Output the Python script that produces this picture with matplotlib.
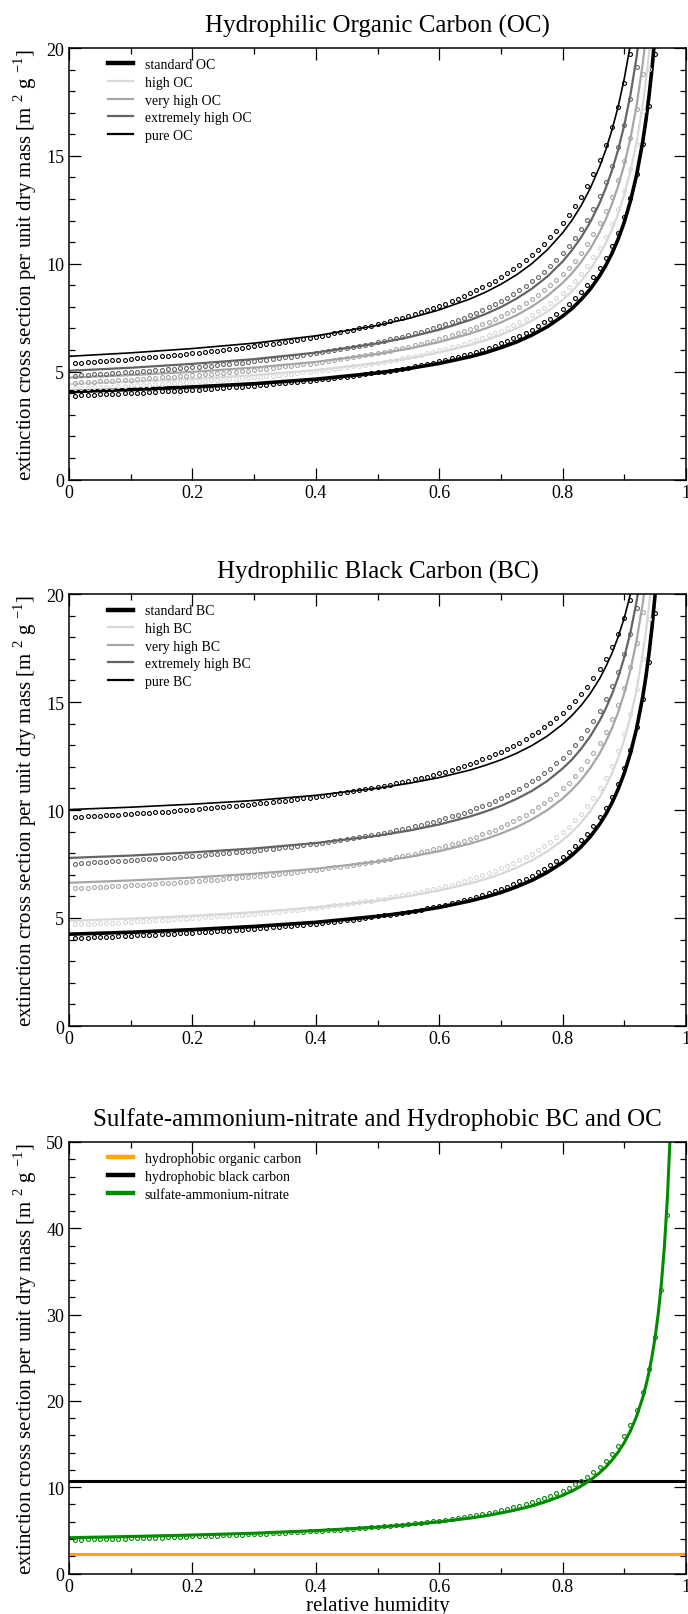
import numpy as np
import matplotlib
matplotlib.use('Agg')
import matplotlib.pyplot as plt
from matplotlib.ticker import MultipleLocator

plt.rcParams['font.family'] = ['Liberation Serif', 'DejaVu Serif']
plt.rcParams['mathtext.fontset'] = 'custom'
plt.rcParams['mathtext.rm'] = 'Liberation Serif'

# relative humidity of the fitted curves (lines) and of the computed points (circles)
LINE_RH = [0, .1, .2, .3, .4, .5, .55, .6, .65, .675, .7, .725, .75, .775, .8, .815, .83, .845, .86, .87,
           .88, .89, .9, .91, .92, .93, .935, .94, .945, .95, .955, .96, .965, .97, .975]
MARK_RH = np.round(np.arange(1, 100) * 0.01, 2)

# Hydrophilic OC
oc_names = ['standard OC', 'high OC', 'very high OC', 'extremely high OC', 'pure OC']
oc_std_line = [4.07, 4.17, 4.29, 4.44, 4.65, 4.94, 5.14, 5.38, 5.69, 5.88, 6.11, 6.37, 6.69, 7.08, 7.57, 7.92,
               8.34, 8.83, 9.44, 9.92, 10.48, 11.14, 11.93, 12.91, 14.12, 15.68, 16.64, 17.76, 19.08, 20.67]
oc_std_pts = [3.89, 3.90, 3.91, 3.93, 3.94, 3.95, 3.96, 3.98, 3.99, 4.00, 4.02, 4.03, 4.05, 4.06, 4.08,
              4.09, 4.11, 4.12, 4.14, 4.16, 4.17, 4.19, 4.21, 4.23, 4.25, 4.27, 4.29, 4.31, 4.33, 4.35, 4.37, 4.40,
              4.42, 4.45, 4.47, 4.50, 4.52, 4.55, 4.58, 4.61, 4.64, 4.67, 4.70, 4.74, 4.77, 4.81, 4.84, 4.88, 4.92,
              4.96, 5.00, 5.05, 5.09, 5.14, 5.19, 5.24, 5.30, 5.35, 5.41, 5.48, 5.54, 5.61, 5.68, 5.76, 5.84, 5.92,
              6.01, 6.10, 6.20, 6.31, 6.42, 6.54, 6.67, 6.80, 6.95, 7.11, 7.28, 7.46, 7.66, 7.88, 8.12, 8.39, 8.68,
              9.01, 9.37, 9.79, 10.26, 10.80, 11.43, 12.18, 13.07, 14.16, 15.53, 17.31, 19.71, 23.17]
oc_high_line = [4.42, 4.53, 4.66, 4.84, 5.07, 5.40, 5.61, 5.89, 6.23, 6.45, 6.70, 7.00, 7.35, 7.78, 8.33, 8.72,
                9.19, 9.75, 10.42, 10.96, 11.58, 12.32, 13.21, 14.30, 15.65, 17.40, 18.47, 19.72, 21.20]
oc_high_pts = [4.23, 4.25, 4.26, 4.27, 4.29, 4.30, 4.31, 4.33, 4.34, 4.36, 4.37, 4.39, 4.40, 4.42, 4.44,
               4.45, 4.47, 4.49, 4.51, 4.53, 4.55, 4.57, 4.59, 4.61, 4.63, 4.65, 4.67, 4.69, 4.72, 4.74, 4.77, 4.79,
               4.82, 4.85, 4.87, 4.90, 4.93, 4.96, 4.99, 5.03, 5.06, 5.09, 5.13, 5.17, 5.20, 5.24, 5.28, 5.33, 5.37,
               5.42, 5.46, 5.51, 5.56, 5.62, 5.67, 5.73, 5.79, 5.85, 5.92, 5.98, 6.06, 6.13, 6.21, 6.29, 6.38, 6.47,
               6.57, 6.68, 6.79, 6.90, 7.03, 7.16, 7.30, 7.45, 7.61, 7.79, 7.97, 8.18, 8.40, 8.64, 8.91, 9.20, 9.52,
               9.88, 10.29, 10.74, 11.26, 11.86, 12.56, 13.38, 14.37, 15.57, 17.08, 19.04, 21.69]
oc_vhigh_line = [4.72, 4.84, 4.99, 5.19, 5.45, 5.82, 6.06, 6.37, 6.76, 7.00, 7.28, 7.61, 8.01, 8.50, 9.11, 9.55,
                 10.08, 10.70, 11.46, 12.06, 12.77, 13.60, 14.60, 15.81, 17.34, 19.30, 20.50]
oc_vhigh_pts = [4.48, 4.50, 4.52, 4.53, 4.55, 4.56, 4.58, 4.60, 4.61, 4.63, 4.65, 4.67, 4.69,
                4.71, 4.73, 4.75, 4.77, 4.79, 4.81, 4.83, 4.85, 4.88, 4.90, 4.92, 4.95, 4.97, 5.00, 5.03,
                5.05, 5.08, 5.11, 5.14, 5.17, 5.20, 5.24, 5.27, 5.30, 5.34, 5.37, 5.41, 5.45, 5.49, 5.53,
                5.57, 5.62, 5.66, 5.71, 5.76, 5.81, 5.86, 5.92, 5.97, 6.03, 6.09, 6.16, 6.22, 6.29, 6.36,
                6.44, 6.52, 6.60, 6.69, 6.78, 6.87, 6.97, 7.08, 7.19, 7.31, 7.43, 7.56, 7.71, 7.85, 8.01,
                8.19, 8.37, 8.56, 8.78, 9.01, 9.26, 9.53, 9.82, 10.15, 10.51, 10.91, 11.36, 11.87, 12.44,
                13.10, 13.87, 14.77, 15.85, 17.16, 18.80, 20.92]
oc_xhigh_line = [5.04, 5.18, 5.36, 5.58, 5.88, 6.31, 6.59, 6.94, 7.39, 7.67, 7.99, 8.38, 8.84, 9.40, 10.10, 10.62,
                 11.22, 11.94, 12.81, 13.51, 14.32, 15.28, 16.43, 17.84, 19.59, 21.85]
oc_xhigh_pts = [4.82, 4.83, 4.85, 4.87, 4.89, 4.90, 4.92, 4.94, 4.96, 4.98, 5.00, 5.02, 5.04,
                5.06, 5.09, 5.11, 5.13, 5.16, 5.18, 5.20, 5.23, 5.26, 5.28, 5.31, 5.34, 5.37, 5.39, 5.42,
                5.46, 5.49, 5.52, 5.55, 5.59, 5.62, 5.66, 5.70, 5.73, 5.77, 5.82, 5.86, 5.90, 5.95, 5.99,
                6.04, 6.09, 6.14, 6.19, 6.25, 6.30, 6.36, 6.42, 6.49, 6.55, 6.62, 6.69, 6.77, 6.85, 6.93,
                7.01, 7.10, 7.19, 7.29, 7.39, 7.50, 7.61, 7.73, 7.85, 7.99, 8.13, 8.28, 8.43, 8.60, 8.78,
                8.97, 9.18, 9.40, 9.64, 9.90, 10.18, 10.49, 10.82, 11.19, 11.60, 12.05, 12.56, 13.13,
                13.78, 14.53, 15.39, 16.41, 17.63, 19.12, 20.99]
oc_pure_line = [5.71, 5.87, 6.07, 6.32, 6.66, 7.14, 7.46, 7.86, 8.37, 8.68, 9.05, 9.48, 10.00, 10.64, 11.43, 12.01,
                12.69, 13.51, 14.50, 15.28, 16.20, 17.28, 18.59, 20.17]
oc_pure_pts = [5.39, 5.41, 5.43, 5.45, 5.47, 5.49, 5.52, 5.54, 5.56, 5.58, 5.61, 5.63, 5.66,
               5.68, 5.71, 5.74, 5.76, 5.79, 5.82, 5.85, 5.88, 5.91, 5.94, 5.97, 6.00, 6.04, 6.07, 6.11,
               6.14, 6.18, 6.22, 6.26, 6.30, 6.34, 6.38, 6.42, 6.47, 6.52, 6.56, 6.61, 6.66, 6.72, 6.77,
               6.82, 6.88, 6.94, 7.00, 7.07, 7.13, 7.20, 7.27, 7.34, 7.42, 7.50, 7.58, 7.67, 7.76, 7.85,
               7.95, 8.05, 8.15, 8.27, 8.38, 8.50, 8.63, 8.77, 8.91, 9.06, 9.22, 9.39, 9.57, 9.76, 9.96,
               10.18, 10.41, 10.66, 10.93, 11.22, 11.53, 11.88, 12.25, 12.66, 13.11, 13.61, 14.17,
               14.80, 15.51, 16.33, 17.28, 18.38, 19.70, 21.31]

# Hydrophilic BC
bc_names = ['standard BC', 'high BC', 'very high BC', 'extremely high BC', 'pure BC']
bc_std_line = [4.25, 4.34, 4.46, 4.61, 4.80, 5.08, 5.26, 5.49, 5.79, 5.97, 6.18, 6.44, 6.74, 7.11, 7.57, 7.90,
               8.30, 8.77, 9.34, 9.80, 10.33, 10.96, 11.71, 12.63, 13.78, 15.26, 16.17, 17.24, 18.49, 20.00, 21.84]
bc_std_pts = [4.07, 4.08, 4.09, 4.10, 4.12, 4.13, 4.14, 4.15, 4.16, 4.18, 4.19, 4.20, 4.22, 4.23, 4.24,
              4.26, 4.27, 4.29, 4.30, 4.32, 4.34, 4.35, 4.37, 4.39, 4.41, 4.42, 4.44, 4.46, 4.48, 4.50, 4.52, 4.55,
              4.57, 4.59, 4.62, 4.64, 4.66, 4.69, 4.72, 4.74, 4.77, 4.80, 4.83, 4.86, 4.90, 4.93, 4.96, 5.00, 5.04,
              5.08, 5.12, 5.16, 5.20, 5.25, 5.29, 5.34, 5.39, 5.45, 5.50, 5.56, 5.62, 5.69, 5.76, 5.83, 5.90, 5.98,
              6.07, 6.15, 6.25, 6.35, 6.45, 6.57, 6.69, 6.82, 6.96, 7.11, 7.27, 7.44, 7.64, 7.84, 8.07, 8.32, 8.60,
              8.91, 9.26, 9.66, 10.11, 10.62, 11.22, 11.93, 12.79, 13.83, 15.14, 16.84, 19.14, 22.45]
bc_high_line = [4.87, 4.97, 5.10, 5.27, 5.49, 5.80, 6.01, 6.27, 6.60, 6.80, 7.04, 7.33, 7.66, 8.08, 8.60, 8.97,
                9.42, 9.95, 10.59, 11.10, 11.70, 12.41, 13.25, 14.29, 15.58, 17.25, 18.27, 19.46, 20.88]
bc_high_pts = [4.70, 4.71, 4.73, 4.74, 4.75, 4.77, 4.78, 4.79, 4.81, 4.82, 4.84, 4.85, 4.87,
               4.89, 4.90, 4.92, 4.94, 4.95, 4.97, 4.99, 5.01, 5.03, 5.05, 5.07, 5.09, 5.11, 5.13, 5.15,
               5.18, 5.20, 5.22, 5.25, 5.27, 5.30, 5.33, 5.36, 5.38, 5.41, 5.44, 5.48, 5.51, 5.54, 5.58,
               5.61, 5.65, 5.69, 5.73, 5.77, 5.81, 5.86, 5.90, 5.95, 6.00, 6.05, 6.10, 6.16, 6.22, 6.28,
               6.34, 6.41, 6.48, 6.55, 6.63, 6.71, 6.79, 6.88, 6.98, 7.08, 7.19, 7.30, 7.42, 7.55, 7.68,
               7.83, 7.98, 8.15, 8.33, 8.53, 8.75, 8.98, 9.23, 9.52, 9.83, 10.17, 10.56, 11.00, 11.49,
               12.06, 12.73, 13.51, 14.44, 15.59, 17.01, 18.86, 21.34]
bc_vhigh_line = [6.63, 6.74, 6.87, 7.05, 7.28, 7.61, 7.82, 8.09, 8.44, 8.66, 8.91, 9.20, 9.56, 9.99, 10.53, 10.93,
                 11.39, 11.95, 12.62, 13.16, 13.78, 14.52, 15.41, 16.49, 17.85, 19.59, 20.66]
bc_vhigh_pts = [6.37, 6.39, 6.40, 6.42, 6.43, 6.45, 6.46, 6.48, 6.49, 6.51, 6.53, 6.54, 6.56,
                6.58, 6.60, 6.62, 6.63, 6.65, 6.67, 6.69, 6.71, 6.74, 6.76, 6.78, 6.80, 6.83, 6.85, 6.88,
                6.90, 6.93, 6.95, 6.98, 7.01, 7.04, 7.07, 7.10, 7.13, 7.16, 7.20, 7.23, 7.27, 7.30, 7.34,
                7.38, 7.42, 7.47, 7.51, 7.55, 7.60, 7.65, 7.70, 7.75, 7.81, 7.86, 7.92, 7.98, 8.05, 8.11,
                8.18, 8.25, 8.33, 8.41, 8.49, 8.58, 8.67, 8.77, 8.87, 8.98, 9.09, 9.21, 9.34, 9.48, 9.63,
                9.78, 9.95, 10.13, 10.32, 10.53, 10.75, 11.00, 11.27, 11.56, 11.89, 12.25, 12.65, 13.10,
                13.61, 14.20, 14.87, 15.66, 16.60, 17.74, 19.16, 20.96]
bc_xhigh_line = [7.78, 7.89, 8.04, 8.22, 8.47, 8.81, 9.04, 9.33, 9.70, 9.93, 10.19, 10.51, 10.88, 11.34, 11.92,
                 12.33, 12.83, 13.42, 14.13, 14.70, 15.36, 16.14, 17.08, 18.23, 19.67, 21.51]
bc_xhigh_pts = [7.52, 7.54, 7.55, 7.57, 7.59, 7.60, 7.62, 7.64, 7.65, 7.67, 7.69, 7.71, 7.73,
                7.74, 7.76, 7.78, 7.80, 7.83, 7.85, 7.87, 7.89, 7.91, 7.94, 7.96, 7.99, 8.01, 8.04, 8.06,
                8.09, 8.12, 8.15, 8.18, 8.21, 8.24, 8.27, 8.30, 8.34, 8.37, 8.41, 8.44, 8.48, 8.52, 8.56,
                8.61, 8.65, 8.69, 8.74, 8.79, 8.84, 8.89, 8.94, 9.00, 9.06, 9.12, 9.18, 9.24, 9.31, 9.38,
                9.45, 9.53, 9.61, 9.70, 9.78, 9.88, 9.97, 10.08, 10.18, 10.30, 10.42, 10.55, 10.68, 10.83,
                10.98, 11.14, 11.32, 11.50, 11.71, 11.92, 12.16, 12.42, 12.70, 13.00, 13.34, 13.71,
                14.13, 14.59, 15.12, 15.72, 16.41, 17.22, 18.17, 19.33, 20.75]
bc_pure_line = [10.02, 10.13, 10.27, 10.44, 10.68, 11.01, 11.23, 11.50, 11.85, 12.07, 12.32, 12.62, 12.98, 13.42,
                13.97, 14.37, 14.84, 15.40, 16.08, 16.63, 17.26, 18.01, 18.90, 20.00, 21.37]
bc_pure_pts = [9.67, 9.68, 9.70, 9.71, 9.73, 9.75, 9.76, 9.78, 9.80, 9.82, 9.84, 9.85, 9.87,
               9.89, 9.91, 9.93, 9.96, 9.98, 10.00, 10.02, 10.04, 10.07, 10.09, 10.12, 10.14, 10.17,
               10.20, 10.22, 10.25, 10.28, 10.31, 10.34, 10.37, 10.40, 10.43, 10.47, 10.50, 10.54,
               10.57, 10.61, 10.65, 10.69, 10.73, 10.77, 10.82, 10.86, 10.91, 10.96, 11.01, 11.06,
               11.12, 11.17, 11.23, 11.29, 11.35, 11.42, 11.48, 11.55, 11.63, 11.70, 11.78, 11.87,
               11.95, 12.05, 12.14, 12.24, 12.35, 12.46, 12.58, 12.70, 12.83, 12.97, 13.12, 13.28,
               13.45, 13.63, 13.82, 14.03, 14.25, 14.49, 14.76, 15.04, 15.36, 15.70, 16.09, 16.52,
               16.99, 17.54, 18.16, 18.88, 19.72, 20.72]

# sulfate-ammonium-nitrate and hydrophobic species
san_line = [4.15, 4.29, 4.46, 4.67, 4.97, 5.37, 5.65, 5.99, 6.42, 6.69, 7.01, 7.38, 7.82, 8.37, 9.05, 9.54,
            10.13, 10.82, 11.67, 12.34, 13.13, 14.05, 15.17, 16.53, 18.23, 20.41, 21.76, 23.32, 25.18, 27.40,
            30.12, 33.52, 37.90, 43.72, 51.88]
san_pts = [3.92, 3.93, 3.95, 3.96, 3.98, 4.00, 4.02, 4.04, 4.05, 4.07, 4.09, 4.11, 4.13, 4.15, 4.17,
           4.19, 4.22, 4.24, 4.26, 4.29, 4.31, 4.34, 4.36, 4.39, 4.41, 4.44, 4.47, 4.50, 4.53, 4.56, 4.59, 4.62,
           4.66, 4.69, 4.72, 4.76, 4.80, 4.84, 4.88, 4.92, 4.96, 5.00, 5.05, 5.09, 5.14, 5.19, 5.24, 5.30, 5.35,
           5.41, 5.47, 5.53, 5.60, 5.67, 5.74, 5.81, 5.89, 5.97, 6.05, 6.14, 6.23, 6.33, 6.43, 6.53, 6.65, 6.77,
           6.89, 7.03, 7.17, 7.32, 7.48, 7.65, 7.83, 8.03, 8.24, 8.46, 8.71, 8.98, 9.27, 9.58, 9.93, 10.32, 10.74,
           11.22, 11.76, 12.37, 13.06, 13.86, 14.80, 15.91, 17.25, 18.90, 20.99, 23.72, 27.44, 32.87, 41.59, 58.16]
oc_phobic = 2.3
bc_phobic = 10.75

oc_sets = [(oc_std_line, oc_std_pts), (oc_high_line, oc_high_pts), (oc_vhigh_line, oc_vhigh_pts),
           (oc_xhigh_line, oc_xhigh_pts), (oc_pure_line, oc_pure_pts)]
bc_sets = [(bc_std_line, bc_std_pts), (bc_high_line, bc_high_pts), (bc_vhigh_line, bc_vhigh_pts),
           (bc_xhigh_line, bc_xhigh_pts), (bc_pure_line, bc_pure_pts)]

colors = ['black', '#d8d8d8', '#a6a6a6', '#646464', 'black']
lws = [2.6, 1.6, 1.6, 1.6, 1.2]
leg_lws = [3.2, 1.6, 1.6, 1.6, 1.6]
GREEN = '#008b00'
ORANGE = '#ffa500'

W, H = 688, 1615
fig = plt.figure(figsize=(W / 100, H / 100), dpi=100)


def add_ax(top_px, bot_px):
    return fig.add_axes([69 / W, 1 - bot_px / H, 617 / W, (bot_px - top_px) / H])


def style(ax, ymax, ymaj, ymin):
    ax.set_xlim(0, 1)
    ax.set_ylim(0, ymax)
    ax.xaxis.set_major_locator(MultipleLocator(0.2))
    ax.xaxis.set_minor_locator(MultipleLocator(0.1))
    ax.yaxis.set_major_locator(MultipleLocator(ymaj))
    ax.yaxis.set_minor_locator(MultipleLocator(ymin))
    ax.tick_params(which='both', direction='in', top=True, right=True,
                   labelsize=13, width=0.9)
    ax.tick_params(axis='x', pad=3)
    ax.tick_params(axis='y', pad=3.5)
    ax.tick_params(which='major', length=8.6)
    ax.tick_params(which='minor', length=4.4)
    for s in ax.spines.values():
        s.set_linewidth(1.1)
    ax.xaxis.set_major_formatter(plt.FuncFormatter(lambda v, p: '%g' % v))
    ax.set_ylabel('extinction cross section per unit dry mass [m $^{2}$ g $^{-1}$]', fontsize=15)
    ax.yaxis.set_label_coords(-0.048, 0.5)


def add_legend(ax):
    ax.legend(loc='upper left', bbox_to_anchor=(0.063, 0.976), frameon=False,
              fontsize=10, handlelength=1.8, handletextpad=0.85,
              labelspacing=0.33, borderpad=0, borderaxespad=0)


def draw_set(ax, sets, names, title):
    for (ln, pts), name, c, lw, llw in zip(sets, names, colors, lws, leg_lws):
        ax.plot(LINE_RH[:len(ln)], ln, color=c, lw=lw, solid_capstyle='butt')
        ax.plot(MARK_RH[:len(pts)], pts, ls='none', marker='o', ms=2.8,
                mfc='none', mec=c, mew=0.8)
        ax.plot([], [], color=c, lw=llw, label=name)
    style(ax, 20, 5, 1)
    ax.set_title(title, fontsize=18, pad=12)
    add_legend(ax)


ax1 = add_ax(49, 480.5)
draw_set(ax1, oc_sets, oc_names, 'Hydrophilic Organic Carbon (OC)')

ax2 = add_ax(595, 1027)
draw_set(ax2, bc_sets, bc_names, 'Hydrophilic Black Carbon (BC)')

ax3 = add_ax(1143, 1574.5)
ax3.plot([0, 1], [oc_phobic] * 2, color=ORANGE, lw=2.2)
ax3.plot([0, 1], [bc_phobic] * 2, color='black', lw=2.2)
ax3.plot(LINE_RH[:len(san_line)], san_line, color=GREEN, lw=2.2)
ax3.plot(MARK_RH[:len(san_pts)], san_pts, ls='none', marker='o', ms=2.8,
         mfc='none', mec=GREEN, mew=0.8)
for name, c in [('hydrophobic organic carbon', ORANGE),
                ('hydrophobic black carbon', 'black'),
                ('sulfate-ammonium-nitrate', GREEN)]:
    ax3.plot([], [], color=c, lw=3.2, label=name)
style(ax3, 50, 10, 2)
ax3.set_title('Sulfate-ammonium-nitrate and Hydrophobic BC and OC', fontsize=18, pad=12)
add_legend(ax3)
ax3.set_xlabel('relative humidity', fontsize=15, labelpad=1)

fig.savefig('out.png', dpi=100)
